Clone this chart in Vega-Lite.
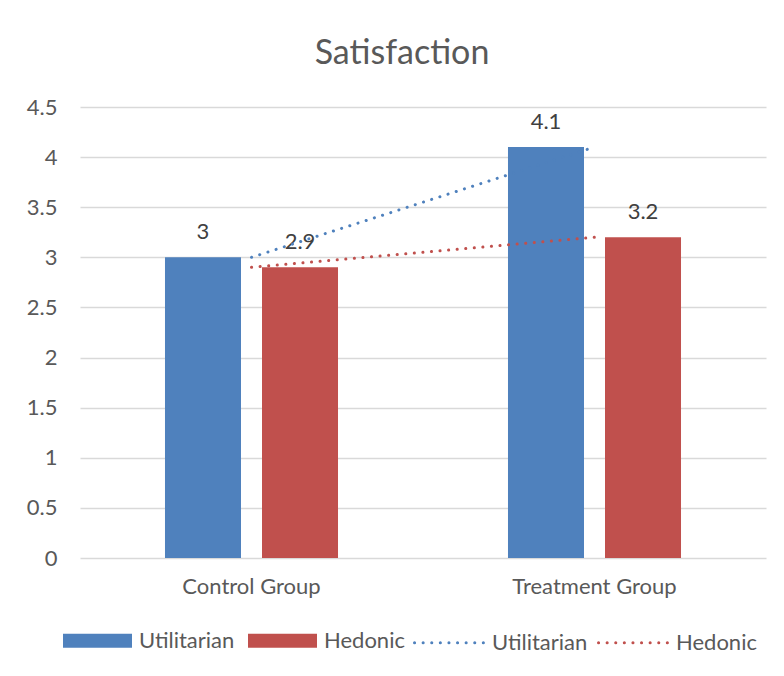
{
  "$schema": "https://vega.github.io/schema/vega-lite/v6.json",
  "autosize": "none",
  "width": 686,
  "height": 451,
  "padding": {"left": 80, "top": 107, "right": 18, "bottom": 118},
  "background": "white",
  "config": {"view": {"stroke": null}},
  "title": {
    "text": "Satisfaction",
    "font": "Lato",
    "fontSize": 34,
    "fontWeight": "normal",
    "color": "#595959",
    "anchor": "middle",
    "frame": "group",
    "dx": -21,
    "offset": 25
  },
  "data": {
    "values": [
      {"group": "Control Group", "series": "Utilitarian", "value": 3},
      {"group": "Control Group", "series": "Hedonic", "value": 2.9},
      {"group": "Treatment Group", "series": "Utilitarian", "value": 4.1},
      {"group": "Treatment Group", "series": "Hedonic", "value": 3.2}
    ]
  },
  "encoding": {
    "x": {
      "field": "group",
      "type": "nominal",
      "sort": ["Control Group", "Treatment Group"],
      "scale": {"paddingInner": 0, "paddingOuter": 0},
      "axis": {
        "title": null,
        "labelAngle": 0,
        "labelFont": "Lato",
        "labelFontSize": 22,
        "labelColor": "#595959",
        "labelPadding": 18,
        "domain": false,
        "ticks": false
      }
    },
    "y": {
      "field": "value",
      "type": "quantitative",
      "scale": {"domain": [0, 4.5], "nice": false},
      "axis": {
        "title": null,
        "values": [0, 0.5, 1, 1.5, 2, 2.5, 3, 3.5, 4, 4.5],
        "format": "~g",
        "labelFont": "Lato",
        "labelFontSize": 22,
        "labelColor": "#595959",
        "labelPadding": 23,
        "domain": false,
        "ticks": false,
        "grid": true,
        "gridColor": "#D9D9D9",
        "gridWidth": 1.4
      }
    }
  },
  "layer": [
    {
      "mark": {"type": "bar"},
      "encoding": {
        "xOffset": {
          "field": "series",
          "type": "nominal",
          "sort": ["Utilitarian", "Hedonic"],
          "scale": {"paddingInner": 0.2165, "paddingOuter": 0.876}
        },
        "fill": {
          "field": "series",
          "type": "nominal",
          "scale": {"domain": ["Utilitarian", "Hedonic"], "range": ["#4F81BD", "#C0504D"]},
          "legend": {
            "title": null,
            "orient": "none",
            "direction": "horizontal",
            "legendX": -17,
            "legendY": 499,
            "symbolType": "M-1,-0.2H1V0.2H-1Z",
            "symbolSize": 4761,
            "symbolStrokeWidth": 0,
            "labelFont": "Lato",
            "labelFontSize": 22,
            "labelColor": "#595959",
            "labelOffset": 7,
            "columnPadding": 13
          }
        }
      }
    },
    {
      "mark": {
        "type": "text",
        "baseline": "bottom",
        "dy": -13,
        "font": "Lato",
        "fontSize": 22,
        "color": "#404040"
      },
      "encoding": {
        "xOffset": {"field": "series", "type": "nominal", "sort": ["Utilitarian", "Hedonic"]},
        "text": {"field": "value", "type": "quantitative", "format": "~g"}
      }
    },
    {
      "mark": {"type": "line", "strokeWidth": 3, "strokeCap": "round", "strokeDash": [0.1, 8.5]},
      "encoding": {
        "stroke": {
          "field": "series",
          "type": "nominal",
          "scale": {"domain": ["Utilitarian", "Hedonic"], "range": ["#4F81BD", "#C0504D"]},
          "legend": {
            "title": null,
            "orient": "none",
            "direction": "horizontal",
            "legendX": 333,
            "legendY": 499,
            "symbolType": "stroke",
            "symbolSize": 4900,
            "symbolStrokeWidth": 3,
            "symbolDash": [0.1, 8.5],
            "labelFont": "Lato",
            "labelFontSize": 22,
            "labelColor": "#595959",
            "labelOffset": 6,
            "columnPadding": 4,
            "encode": {"symbols": {"update": {"strokeCap": {"value": "round"}}}}
          }
        }
      }
    }
  ],
  "resolve": {"legend": {"fill": "independent", "stroke": "independent"}}
}
